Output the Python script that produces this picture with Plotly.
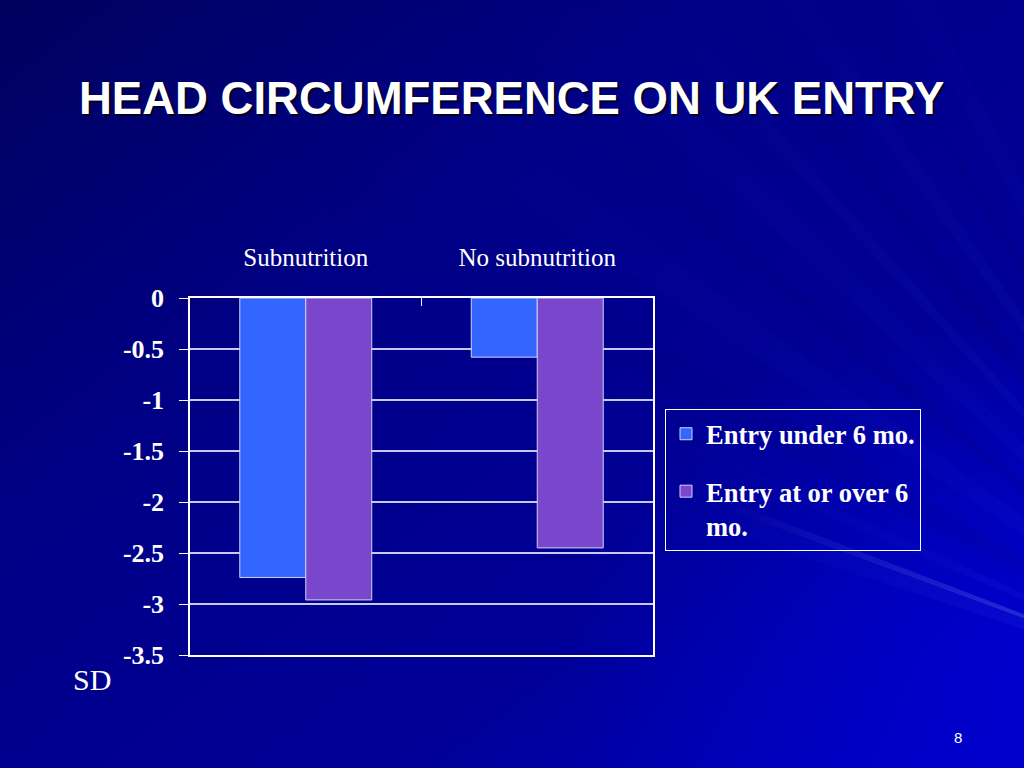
import base64
import math
import plotly.graph_objects as go

# ---------------- data ----------------
categories = ["Subnutrition", "No subnutrition"]
series_names = ["Entry under 6 mo.", "Entry at or over 6<br>mo."]
entry_under_6 = [-2.74, -0.58]
entry_over_6 = [-2.96, -2.45]
y_tick_values = [0, -0.5, -1, -1.5, -2, -2.5, -3, -3.5]
y_tick_labels = ["0", "-0.5", "-1", "-1.5", "-2", "-2.5", "-3", "-3.5"]
title_text = "HEAD CIRCUMFERENCE ON UK ENTRY"
y_unit_text = "SD"
page_number = "8"

# ---------------- layout geometry ----------------
W, H = 1024, 768
L, R, T, B = 190, 653, 298, 655  # plot area pixels
pw, ph = R - L, B - T


def px(x):
    return (x - L) / pw


def py(y):
    return (B - y) / ph


# ---------------- background (slide) ----------------
ox, oy = 1300, 720
# (angle, width, colour, opacity, fade radius)
rays = [
    (200.6, 0.7, "#a0b0ff", 0.30, 620),
    (199.3, 2.2, "#4060ff", 0.12, 650),
    (204.0, 1.2, "#6f80ff", 0.06, 700),
    (209.0, 3.0, "#000040", 0.08, 1200),
    (215.0, 2.5, "#3050ff", 0.05, 1100),
    (220.0, 1.5, "#000040", 0.08, 1300),
    (224.0, 2.0, "#3050ff", 0.05, 1100),
    (228.0, 1.0, "#6070ff", 0.06, 1000),
    (231.5, 1.8, "#000040", 0.09, 1200),
    (235.0, 1.2, "#5060ff", 0.06, 1000),
    (238.5, 0.8, "#000040", 0.10, 1100),
    (242.0, 1.5, "#4050ff", 0.05, 1000),
]
defs = []
polys = []
for i, (ang, wdt, col, op, rad) in enumerate(rays):
    a1 = math.radians(ang - wdt / 2)
    a2 = math.radians(ang + wdt / 2)
    d = 2500
    p1 = (ox + d * math.cos(a1), oy + d * math.sin(a1))
    p2 = (ox + d * math.cos(a2), oy + d * math.sin(a2))
    defs.append(
        f'<radialGradient id="f{i}" gradientUnits="userSpaceOnUse" cx="{ox}" cy="{oy}" r="{rad}">'
        f'<stop offset="0.3" stop-color="{col}" stop-opacity="{op}"/>'
        f'<stop offset="1" stop-color="{col}" stop-opacity="0"/>'
        '</radialGradient>'
    )
    polys.append(
        f'<polygon points="{ox},{oy} {p1[0]:.1f},{p1[1]:.1f} {p2[0]:.1f},{p2[1]:.1f}" '
        f'fill="url(#f{i})"/>'
    )
svg = (
    f'<svg xmlns="http://www.w3.org/2000/svg" width="{W}" height="{H}" viewBox="0 0 {W} {H}">'
    '<defs>'
    '<linearGradient id="g" x1="0" y1="0" x2="1" y2="1">'
    '<stop offset="0" stop-color="#00005e"/>'
    '<stop offset="0.35" stop-color="#000086"/>'
    '<stop offset="0.7" stop-color="#000098"/>'
    '<stop offset="1" stop-color="#0000c8"/>'
    '</linearGradient>'
    '<radialGradient id="r" cx="1" cy="0.85" r="0.45">'
    '<stop offset="0" stop-color="#0000d8" stop-opacity="0.6"/>'
    '<stop offset="1" stop-color="#0000d8" stop-opacity="0"/>'
    '</radialGradient>'
    + "".join(defs) +
    '</defs>'
    f'<rect width="{W}" height="{H}" fill="url(#g)"/>'
    f'<rect width="{W}" height="{H}" fill="url(#r)"/>'
    + "".join(polys)
    + '</svg>'
)
bg_src = "data:image/svg+xml;base64," + base64.b64encode(svg.encode()).decode()

# ---------------- figure ----------------
fig = go.Figure()
fig.add_trace(go.Bar(
    x=categories, y=entry_under_6, name=series_names[0], legendgroup="a",
    marker=dict(color="#3366FF", line=dict(color="#D0D0F4", width=1)),
    hoverinfo="skip",
))
fig.add_trace(go.Bar(
    x=categories, y=entry_over_6, name=series_names[1], legendgroup="b",
    marker=dict(color="#7A47CC", line=dict(color="#D0D0F4", width=1)),
    hoverinfo="skip",
))

fig.update_layout(
    width=W, height=H,
    margin=dict(l=L, r=W - R, t=T, b=H - B, pad=0),
    paper_bgcolor="#000088",
    plot_bgcolor="rgba(0,0,0,0)",
    barmode="group", bargap=0.43, bargroupgap=0,
    showlegend=True,
    legend=dict(
        x=px(665), y=py(409), xanchor="left", yanchor="top",
        bgcolor="rgba(0,0,0,0)", bordercolor="#FFFFFF", borderwidth=1,
        font=dict(family="Liberation Serif", size=26.5, color="#FFFFFF", weight="bold"),
        tracegroupgap=20, valign="top", traceorder="grouped",
    ),
    images=[dict(
        source=bg_src, xref="paper", yref="paper",
        x=px(0), y=py(0), sizex=W / pw, sizey=H / ph,
        xanchor="left", yanchor="top", sizing="stretch", layer="below",
    )],
    xaxis=dict(
        side="top", type="category",
        showline=True, linecolor="#FFFFFF", linewidth=1.5, mirror=True,
        ticks="inside", tickson="boundaries", ticklen=8, tickcolor="#FFFFFF", tickwidth=1,
        showgrid=False, zeroline=False,
        tickfont=dict(family="Liberation Serif", size=25, color="#FFFFFF"),
        ticklabelstandoff=20,
    ),
    yaxis=dict(
        range=[-3.5, 0],
        tickmode="array", tickvals=y_tick_values, ticktext=y_tick_labels,
        showline=True, linecolor="#FFFFFF", linewidth=1.5, mirror=True,
        ticks="outside", ticklen=9, tickcolor="#FFFFFF", tickwidth=1,
        showgrid=True, gridcolor="#C8C8F0", gridwidth=1.5, zeroline=False,
        tickfont=dict(family="Liberation Serif", size=26, color="#FFFFFF", weight="bold"),
        ticklabelstandoff=10,
    ),
    annotations=[
        dict(text=f"<b>{title_text}</b>", x=px(513.5), y=py(100.5), xref="paper", yref="paper",
             showarrow=False, xanchor="center", yanchor="middle",
             font=dict(family="Liberation Sans", size=45.5, color="#000022")),
        dict(text=f"<b>{title_text}</b>", x=px(511), y=py(98), xref="paper", yref="paper",
             showarrow=False, xanchor="center", yanchor="middle",
             font=dict(family="Liberation Sans", size=45.5, color="#FFFFFF")),
        dict(text=y_unit_text, x=px(92), y=py(679), xref="paper", yref="paper",
             showarrow=False, xanchor="center", yanchor="middle",
             font=dict(family="Liberation Serif", size=30, color="#FFFFFF")),
        dict(text=page_number, x=px(958), y=py(737), xref="paper", yref="paper",
             showarrow=False, xanchor="center", yanchor="middle",
             font=dict(family="Liberation Sans", size=15, color="#FFFFFF")),
    ],
)

fig.write_html(
    "out.html",
    config={"displayModeBar": False},
    post_script="document.body.style.margin='0';document.body.style.overflow='hidden';",
)
